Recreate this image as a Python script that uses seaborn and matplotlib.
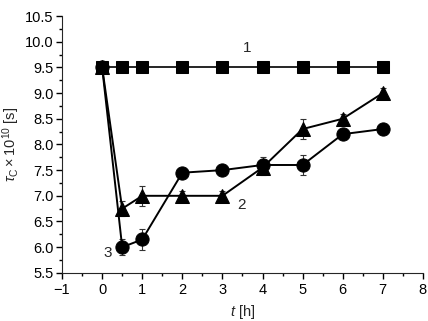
import numpy as np
import pandas as pd
import seaborn as sns
import matplotlib
matplotlib.use("Agg")
import matplotlib.pyplot as plt
from matplotlib.ticker import MultipleLocator

t = [0, 0.5, 1, 2, 3, 4, 5, 6, 7]
tau_1 = [9.5, 9.5, 9.5, 9.5, 9.5, 9.5, 9.5, 9.5, 9.5]
tau_2 = [9.5, 6.75, 7.0, 7.0, 7.0, 7.55, 8.3, 8.5, 9.0]
tau_3 = [9.5, 6.0, 6.15, 7.45, 7.5, 7.6, 7.6, 8.2, 8.3]
err_2 = [0, 0.15, 0.2, 0.1, 0.1, 0.15, 0.2, 0.1, 0.1]
err_3 = [0, 0.15, 0.2, 0.1, 0.1, 0.15, 0.2, 0.1, 0.1]

df = pd.DataFrame({
    "t": t * 2,
    "tau": tau_3 + tau_2,
    "series": ["3"] * len(t) + ["2"] * len(t),
})
df1 = pd.DataFrame({"t": t, "tau": tau_1})

sns.set_style("ticks")
plt.rcParams["font.family"] = ["Liberation Sans", "DejaVu Sans"]
plt.rcParams["mathtext.fontset"] = "custom"
plt.rcParams["mathtext.rm"] = "Liberation Sans"
plt.rcParams["mathtext.it"] = "Liberation Sans:italic"

fig = plt.figure(figsize=(4.28, 3.21), dpi=100)
ax = fig.add_axes([0.145, 0.15, 0.843, 0.80])

ax.errorbar(t, tau_2, yerr=err_2, fmt="none", ecolor="#333333", elinewidth=0.8, capsize=2.5, capthick=0.8, zorder=2)
ax.errorbar(t, tau_3, yerr=err_3, fmt="none", ecolor="#333333", elinewidth=0.8, capsize=2.5, capthick=0.8, zorder=2)

sns.lineplot(data=df1, x="t", y="tau", color="black", marker="s",
             markersize=8, markeredgecolor="black", linewidth=1.2,
             ax=ax, zorder=3)
sns.lineplot(data=df, x="t", y="tau", hue="series", style="series",
             markers={"2": "^", "3": "o"}, dashes=False,
             palette={"2": "black", "3": "black"},
             markersize=9.5, markeredgecolor="black", linewidth=1.4,
             legend=False, ax=ax, zorder=3)

ax.text(3.62, 9.88, "1", fontsize=11, ha="center", va="center")
ax.text(3.48, 6.83, "2", fontsize=11, ha="center", va="center")
ax.text(0.14, 5.88, "3", fontsize=11, ha="center", va="center")

ax.set_xlim(-1, 8)
ax.set_ylim(5.5, 10.5)
ax.xaxis.set_major_locator(MultipleLocator(1))
ax.xaxis.set_minor_locator(MultipleLocator(0.5))
ax.yaxis.set_major_locator(MultipleLocator(0.5))
ax.yaxis.set_minor_locator(MultipleLocator(0.25))
ax.set_xticklabels([f"{int(v)}".replace("-", "\u2212") for v in ax.get_xticks()])
ax.set_yticklabels([f"{v:.1f}" for v in ax.get_yticks()])
ax.tick_params(which="both", direction="out", labelsize=10.5, width=1, colors="black")
ax.tick_params(axis="y", pad=2)
ax.tick_params(which="major", length=4)
ax.tick_params(which="minor", length=2.5)
ax.set_xlabel(r"$t$ [h]", fontsize=10.5, labelpad=4)
ax.set_ylabel(r"$\tau_{\mathrm{C}}\times10^{10}$ [s]", fontsize=10.5, labelpad=2)
sns.despine(ax=ax)

fig.savefig("out.png", dpi=100)
